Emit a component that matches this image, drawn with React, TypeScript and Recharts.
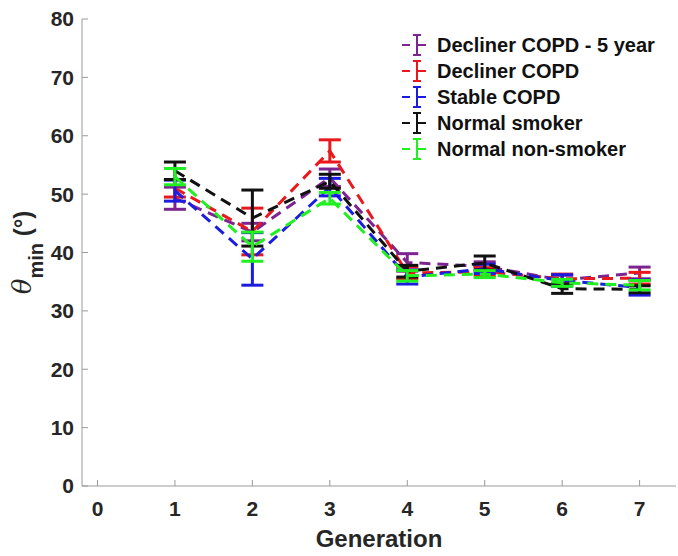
import React from 'react';
import { LineChart, Line, XAxis, YAxis, ErrorBar } from 'recharts';

const generations = [1, 2, 3, 4, 5, 6, 7];

const declinerFiveYear = [49.3, 43.5, 52.8, 38.3, 37.6, 35.3, 36.5];
const declinerFiveYearErr = [1.9, 1.5, 1.5, 1.5, 0.8, 0.8, 1.0];
const decliner = [51.0, 43.6, 57.4, 36.5, 36.7, 35.5, 35.6];
const declinerErr = [1.5, 4.0, 1.9, 1.0, 0.7, 0.8, 1.0];
const stable = [50.6, 38.9, 51.2, 35.8, 37.2, 35.2, 34.0];
const stableErr = [1.8, 4.5, 1.5, 1.2, 0.8, 1.0, 1.3];
const normalSmoker = [54.0, 45.9, 52.2, 36.8, 38.2, 33.8, 33.7];
const normalSmokerErr = [1.5, 4.8, 1.2, 1.0, 1.2, 0.8, 0.6];
const nonSmoker = [53.0, 41.0, 49.3, 36.0, 36.3, 34.8, 34.4];
const nonSmokerErr = [1.4, 2.5, 1.0, 0.9, 0.6, 0.6, 0.8];

const xTicks = [0, 1, 2, 3, 4, 5, 6, 7];
const yTicks = [0, 10, 20, 30, 40, 50, 60, 70, 80];

const series = [
  { key: 'd5', name: 'Decliner COPD - 5 year', color: '#7d2490', values: declinerFiveYear, err: declinerFiveYearErr },
  { key: 'd', name: 'Decliner COPD', color: '#e8181c', values: decliner, err: declinerErr },
  { key: 's', name: 'Stable COPD', color: '#1c1ce0', values: stable, err: stableErr },
  { key: 'ns', name: 'Normal smoker', color: '#111111', values: normalSmoker, err: normalSmokerErr },
  { key: 'nn', name: 'Normal non-smoker', color: '#20f020', values: nonSmoker, err: nonSmokerErr },
];

const data = generations.map((g, i) => {
  const row: Record<string, number> = { gen: g };
  series.forEach(s => {
    row[s.key] = s.values[i];
    row[s.key + 'Err'] = s.err[i];
  });
  return row;
});

const FONT = "'Liberation Sans', Arial, sans-serif";
const AXIS = '#9a9a9a';
const TICK_LEN = 6;

// inward tick marks, MATLAB style
const BottomTick = (props: any) => {
  const { x, y, payload } = props;
  const axisY = y - 15;
  return (
    <g>
      <line x1={x} x2={x} y1={axisY} y2={axisY - TICK_LEN} stroke={AXIS} />
      <text x={x} y={y} dy="0.71em" textAnchor="middle" fontFamily={FONT} fontSize={21} fontWeight="bold" fill="#262626">
        {payload.value}
      </text>
    </g>
  );
};

const TopTick = (props: any) => {
  const { x, y } = props;
  return <line x1={x} x2={x} y1={y} y2={y + TICK_LEN} stroke={AXIS} />;
};

const LeftTick = (props: any) => {
  const { x, y, payload } = props;
  const axisX = x + 8;
  return (
    <g>
      <line x1={axisX} x2={axisX + TICK_LEN} y1={y} y2={y} stroke={AXIS} />
      <text x={x} y={y} dy="0.355em" textAnchor="end" fontFamily={FONT} fontSize={21} fontWeight="bold" fill="#262626">
        {payload.value}
      </text>
    </g>
  );
};

const RightTick = (props: any) => {
  const { x, y } = props;
  return <line x1={x} x2={x - TICK_LEN} y1={y} y2={y} stroke={AXIS} />;
};

const LegendBox = () => (
  <div style={{ position: 'absolute', left: 400, top: 32, fontFamily: FONT, fontSize: 20, fontWeight: 'bold', color: '#111' }}>
    {series.map(s => (
      <div key={s.key} style={{ display: 'flex', alignItems: 'center', height: 26 }}>
        <svg width={36} height={26}>
          <line x1={2} x2={10} y1={13} y2={13} stroke={s.color} strokeWidth={2} />
          <line x1={17} x2={17} y1={3} y2={23} stroke={s.color} strokeWidth={2} />
          <line x1={13} x2={21} y1={3} y2={3} stroke={s.color} strokeWidth={2} />
          <line x1={13} x2={21} y1={23} y2={23} stroke={s.color} strokeWidth={2} />
          <line x1={17} x2={26} y1={13} y2={13} stroke={s.color} strokeWidth={2} />
        </svg>
        <span style={{ marginLeft: 1, whiteSpace: 'nowrap' }}>{s.name}</span>
      </div>
    ))}
  </div>
);

const YLabel = (props: any) => {
  const vb = props.viewBox;
  const cx = vb.x + 31;
  const cy = vb.y + vb.height / 2;
  return (
    <text transform={`translate(${cx},${cy}) rotate(-90)`} textAnchor="middle" fill="#262626" fontFamily={FONT} fontWeight="bold" fontSize={24}>
      <tspan fontFamily="'DejaVu Serif', serif" fontStyle="italic" fontWeight="normal" fontSize={26}>θ</tspan>
      <tspan dy={12} fontSize={20}>min</tspan>
      <tspan dy={-12}> (°)</tspan>
    </text>
  );
};

const XLabel = (props: any) => {
  const vb = props.viewBox;
  return (
    <text x={vb.x + vb.width / 2} y={vb.y + 61} textAnchor="middle" fill="#262626" fontFamily={FONT} fontWeight="bold" fontSize={24}>
      Generation
    </text>
  );
};

export default function App() {
  return (
    <div style={{ position: 'absolute', left: 0, top: 0, width: 678, height: 556, background: '#fff' }}>
      <LineChart width={678} height={556} data={data} margin={{ top: 19, right: 2, bottom: 0, left: 0 }}>
        <XAxis
          dataKey="gen"
          type="number"
          domain={[-0.2, 7.47]}
          ticks={xTicks}
          interval={0}
          height={70}
          tickSize={0}
          tickMargin={15}
          tickLine={false}
          axisLine={{ stroke: AXIS }}
          tick={BottomTick}
          label={{ content: XLabel }}
        />
        <XAxis
          xAxisId="top"
          orientation="top"
          type="number"
          domain={[-0.2, 7.47]}
          ticks={xTicks}
          interval={0}
          height={0}
          tickSize={0}
          tickMargin={0}
          tickLine={false}
          axisLine={{ stroke: AXIS }}
          tick={TopTick}
        />
        <YAxis
          type="number"
          domain={[0, 80]}
          ticks={yTicks}
          interval={0}
          width={82}
          tickSize={0}
          tickMargin={8}
          tickLine={false}
          axisLine={{ stroke: AXIS }}
          tick={LeftTick}
          label={{ content: YLabel }}
        />
        <YAxis
          yAxisId="right"
          orientation="right"
          type="number"
          domain={[0, 80]}
          ticks={yTicks}
          interval={0}
          width={0}
          tickSize={0}
          tickMargin={0}
          tickLine={false}
          axisLine={{ stroke: AXIS }}
          tick={RightTick}
        />
        {series.map(s => (
          <Line
            key={s.key}
            type="linear"
            dataKey={s.key}
            name={s.name}
            stroke={s.color}
            strokeWidth={3}
            strokeDasharray="11 7"
            dot={false}
            activeDot={false}
            isAnimationActive={false}
          >
            <ErrorBar dataKey={s.key + 'Err'} direction="y" width={11} stroke={s.color} strokeWidth={3} isAnimationActive={false} />
          </Line>
        ))}
      </LineChart>
      <LegendBox />
    </div>
  );
}
